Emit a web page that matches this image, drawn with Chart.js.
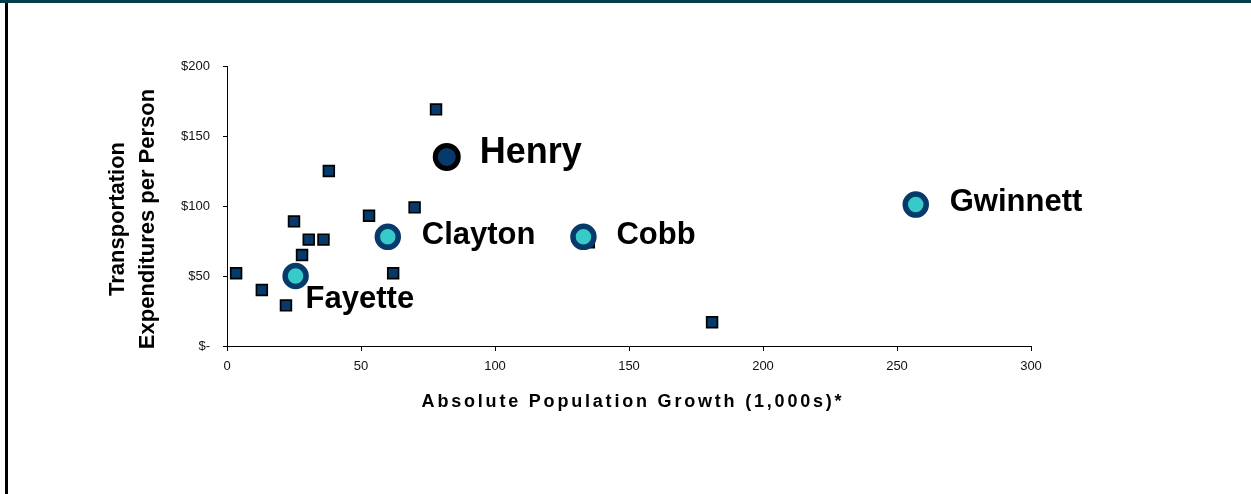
<!DOCTYPE html>
<html>
<head>
<meta charset="utf-8">
<title>Transportation Expenditures vs Population Growth</title>
<script src="https://cdn.jsdelivr.net/npm/chart.js@4/dist/chart.umd.min.js"></script>
<style>
  html, body { margin: 0; padding: 0; background: #fff; }
  #wrap { position: relative; width: 1251px; height: 494px; overflow: hidden; background: #fff; }
  #c { position: absolute; left: 0; top: 0; }
  #topRule { position: absolute; left: 0; top: 0; width: 1251px; height: 3px; background: #063d4c; }
  #leftRule { position: absolute; left: 5px; top: 3px; width: 3px; height: 491px; background: #000; }
</style>
</head>
<body>
<div id="wrap">
  <canvas id="c" width="1251" height="494"></canvas>
  <div id="topRule"></div>
  <div id="leftRule"></div>
</div>
<script>
// Named counties: absolute population growth (1,000s) and transportation spend per person ($)
const featuredName   = ['Henry'];
const featuredGrowth = [82];
const featuredSpend  = [135];

const highlightNames  = ['Clayton', 'Cobb', 'Gwinnett', 'Fayette'];
const highlightGrowth = [60, 133, 257, 25.6];
const highlightSpend  = [78, 78, 101, 50];

// Remaining counties (unlabelled)
const otherGrowth = [3.4, 13, 22, 25, 28, 30.5, 36, 38, 53, 62, 70, 78, 135, 181];
const otherSpend  = [52, 40, 29, 89, 65, 76, 76, 125, 93, 52, 99, 169, 74, 17];

// Axis ticks
const xTicks = [0, 50, 100, 150, 200, 250, 300];
const yTicks = [0, 50, 100, 150, 200];
const yTickLabels = ['$-', '$50', '$100', '$150', '$200'];

const xTitle = 'Absolute Population Growth (1,000s)*';
const yTitle = ['Transportation', 'Expenditures per Person'];

const NAVY = '#053a6b';
const TEAL = '#36cbc9';
const FONT = '"Liberation Sans", Arial, Helvetica, sans-serif';

const toPoints = (xs, ys) => xs.map((x, i) => ({ x: x, y: ys[i] }));

// Label placement relative to each marker centre (pixels)
const labelStyle = {
  Henry:    { dx: 33, dy: -4, size: 36 },
  Clayton:  { dx: 34, dy: -1, size: 31 },
  Cobb:     { dx: 33, dy: -1, size: 31 },
  Gwinnett: { dx: 34, dy: -2, size: 31 },
  Fayette:  { dx: 10, dy: 23, size: 31 }
};

const pointLabels = {
  id: 'pointLabels',
  afterDatasetsDraw(chart) {
    const ctx = chart.ctx;
    ctx.save();
    ctx.fillStyle = '#000';
    ctx.textAlign = 'left';
    ctx.textBaseline = 'middle';
    chart.data.datasets.forEach((ds, di) => {
      if (!ds.names) return;
      const meta = chart.getDatasetMeta(di);
      meta.data.forEach((el, i) => {
        const name = ds.names[i];
        const st = labelStyle[name];
        ctx.font = 'bold ' + st.size + 'px ' + FONT;
        ctx.fillText(name, el.x + st.dx, el.y + st.dy);
      });
    });
    ctx.restore();
  },
  afterDraw(chart) {
    const ctx = chart.ctx;
    const area = chart.chartArea;
    ctx.save();
    ctx.fillStyle = '#000';
    // x axis title
    ctx.font = 'bold 18px ' + FONT;
    ctx.letterSpacing = '2.8px';
    ctx.textAlign = 'center';
    ctx.textBaseline = 'middle';
    ctx.fillText(xTitle, (area.left + area.right) / 2 + 4, 402);
    // y axis title, two rotated lines
    ctx.letterSpacing = '0px';
    ctx.font = 'bold 22px ' + FONT;
    ctx.translate(118, 219);
    ctx.rotate(-Math.PI / 2);
    yTitle.forEach((line, i) => ctx.fillText(line, 0, i * 30));
    ctx.restore();
  }
};

new Chart(document.getElementById('c'), {
  type: 'scatter',
  data: {
    datasets: [
      {
        label: 'Featured',
        names: featuredName,
        data: toPoints(featuredGrowth, featuredSpend),
        pointStyle: 'circle',
        pointRadius: 11.5,
        borderWidth: 5,
        borderColor: '#000',
        backgroundColor: NAVY,
        order: 0
      },
      {
        label: 'Highlighted',
        names: highlightNames,
        data: toPoints(highlightGrowth, highlightSpend),
        pointStyle: 'circle',
        pointRadius: 10.5,
        borderWidth: 5.5,
        borderColor: NAVY,
        backgroundColor: TEAL,
        order: 1
      },
      {
        label: 'Other counties',
        data: toPoints(otherGrowth, otherSpend),
        pointStyle: 'rect',
        pointRadius: 7.6,
        borderWidth: 1.7,
        borderColor: '#000',
        backgroundColor: NAVY,
        order: 2
      }
    ]
  },
  options: {
    responsive: false,
    animation: false,
    devicePixelRatio: 1,
    layout: { padding: { left: 0, top: 66, right: 220, bottom: 0 } },
    plugins: {
      legend: { display: false },
      tooltip: { enabled: false }
    },
    elements: { point: { hoverRadius: 0 } },
    scales: {
      x: {
        type: 'linear',
        min: xTicks[0],
        max: xTicks[xTicks.length - 1],
        afterBuildTicks: s => { s.ticks = xTicks.map(v => ({ value: v })); },
        afterFit: s => { s.height = 494 - 346; },
        ticks: {
          color: '#111',
          font: { family: FONT, size: 13 },
          padding: 8,
          maxRotation: 0,
          callback: v => String(v)
        },
        grid: { drawOnChartArea: false, drawTicks: true, tickLength: 5, color: '#000', lineWidth: 1 },
        border: { display: true, color: '#000', width: 1 }
      },
      y: {
        type: 'linear',
        min: yTicks[0],
        max: yTicks[yTicks.length - 1],
        afterBuildTicks: s => { s.ticks = yTicks.map(v => ({ value: v })); },
        afterFit: s => { s.width = 227; },
        ticks: {
          color: '#111',
          font: { family: FONT, size: 13 },
          padding: 13,
          callback: v => yTickLabels[yTicks.indexOf(v)]
        },
        grid: { drawOnChartArea: false, drawTicks: true, tickLength: 4, color: '#000', lineWidth: 1 },
        border: { display: true, color: '#000', width: 1 }
      }
    }
  },
  plugins: [pointLabels]
});
</script>
</body>
</html>
